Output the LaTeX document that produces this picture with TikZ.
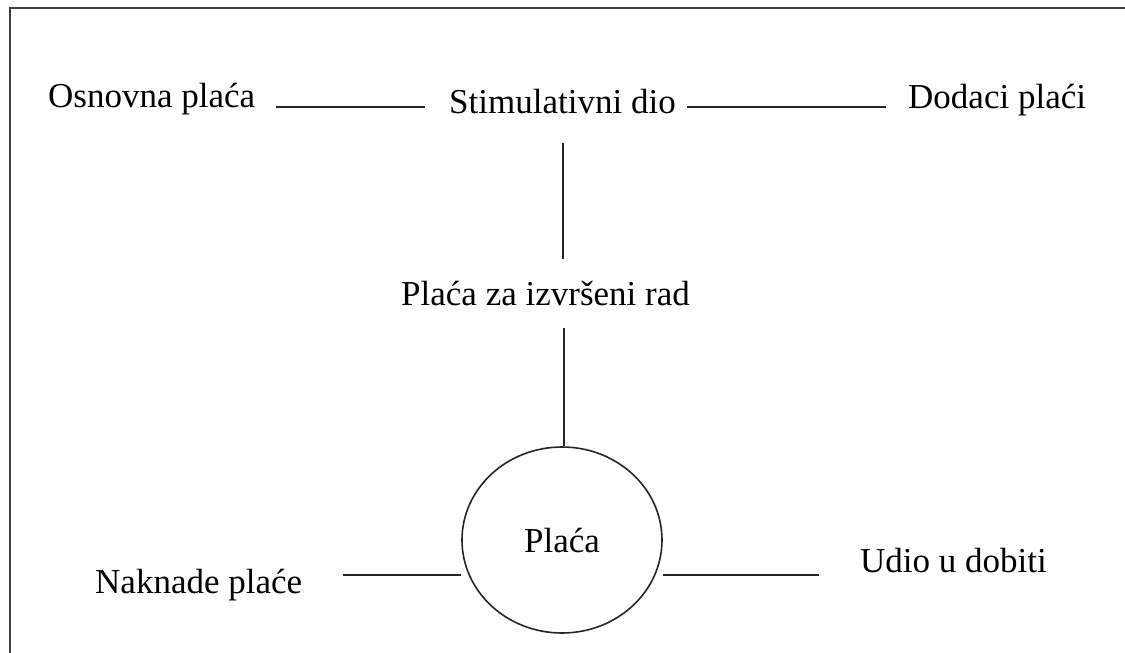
\documentclass[tikz,border=0pt]{standalone}
\usepackage{fontspec}
\setmainfont{Liberation Serif}
\usetikzlibrary{shapes.geometric}
\begin{document}
\begin{tikzpicture}[x=1pt,y=-1pt,
  lbl/.style={anchor=base west,inner sep=0pt,font=\fontsize{35}{40}\selectfont,text=black},
  conn/.style={line width=1.6pt,draw=black!85},
  frame/.style={line width=2pt,draw=black!75}]
\useasboundingbox (0,0) rectangle (1125,653);
% frame (open at bottom and right)
\coordinate (f1) at (10,653);
\coordinate (f2) at (10,8);
\coordinate (f3) at (1125,8);
\draw[frame] (f1) -- (f2) -- (f3);
% text nodes
\node[lbl] (osn) at (48,107) {Osnovna plaća};
\node[lbl] (stim) at (449,113) {Stimulativni dio};
\node[lbl] (dod) at (908,108) {Dodaci plaći};
\node[lbl] (rad) at (401,305) {Plaća za izvršeni rad};
\node[lbl] (nak) at (95,593) {Naknade plaće};
\node[lbl] (udio) at (860,572) {Udio u dobiti};
\node[ellipse,draw=black!85,line width=1.6pt,minimum width=200pt,minimum height=186pt,inner sep=0pt,
  font=\fontsize{35}{40}\selectfont] (pl) at (562,540) {Plaća};
% connector end points
\coordinate (a1) at (276,107);
\coordinate (a2) at (425,107);
\coordinate (b1) at (687,107);
\coordinate (b2) at (886,107);
\coordinate (v1) at (563,143);
\coordinate (v2) at (563,259);
\coordinate (v3) at (564,328);
\coordinate (l1) at (343,575);
\coordinate (r1) at (819,575);
% connectors
\draw[conn] (a1) -- (a2);
\draw[conn] (b1) -- (b2);
\draw[conn] (v1) -- (v2);
\draw[conn] (v3) -- (v3 |- pl.north);
\draw[conn] (l1) -- (l1 -| pl.west);
\draw[conn] (r1) -- (r1 -| pl.east);
\end{tikzpicture}
\end{document}
